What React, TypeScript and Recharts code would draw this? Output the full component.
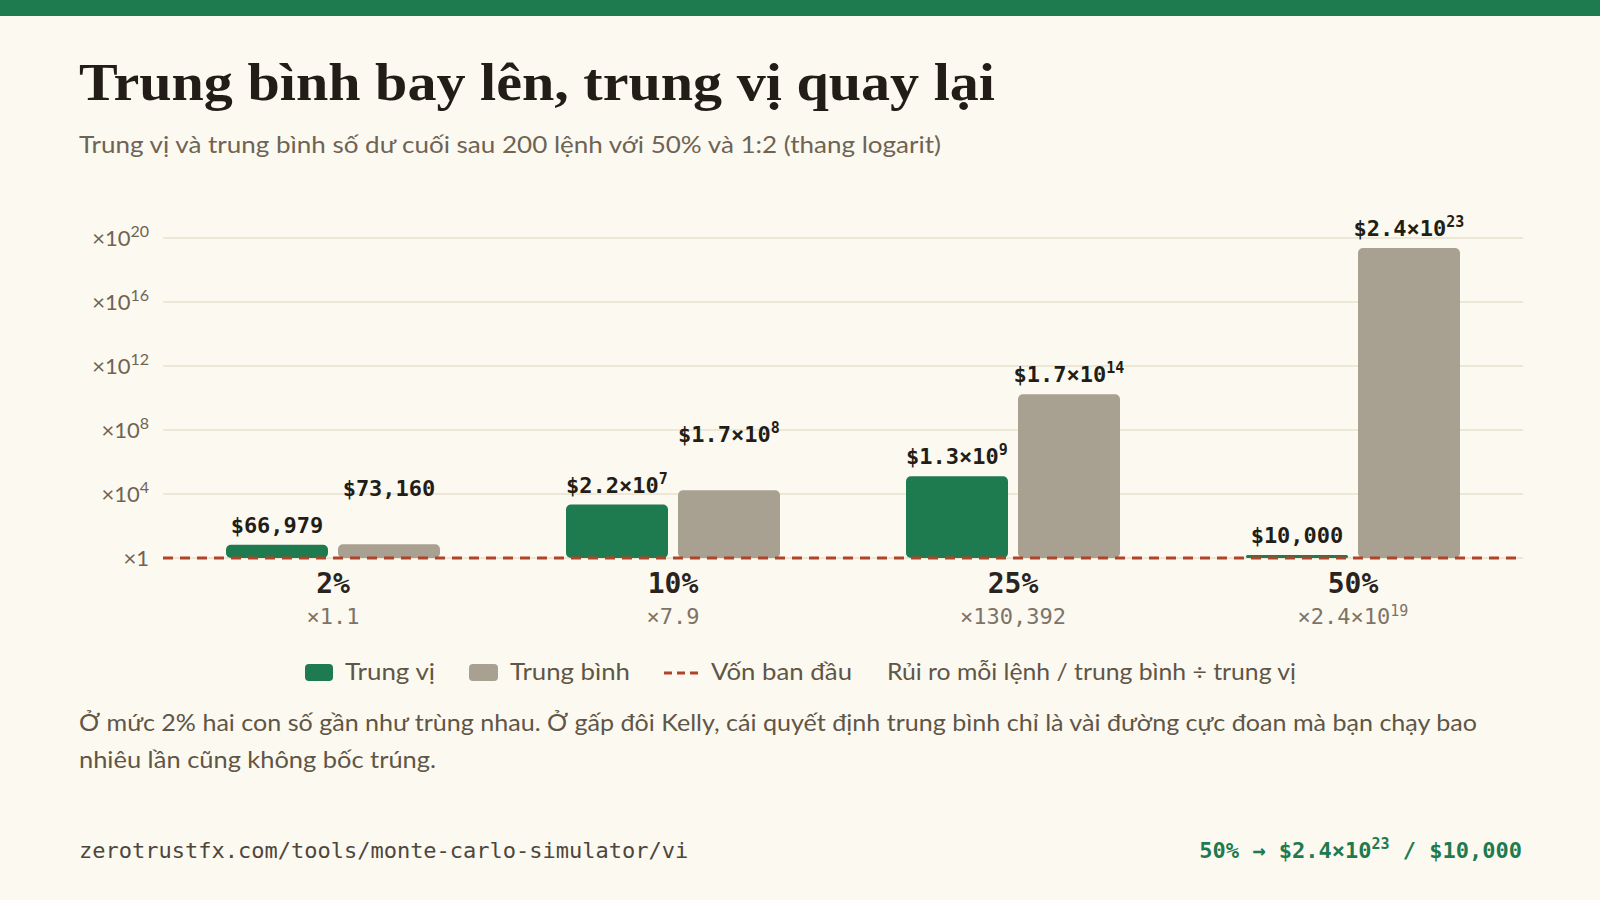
import { BarChart, Bar, XAxis, YAxis, CartesianGrid, ReferenceLine, LabelList } from 'recharts'

// starting capital, balances and ratios
const START = 10000
const riskLevels = ['2%', '10%', '25%', '50%']
const medianBalance = [66979, 2.2e7, 1.3e9, 10000]
const meanBalance = [73160, 1.7e8, 1.7e14, 2.4e23]
const meanOverMedian = [1.1, 7.9, 130392, 2.4e19]
const yTicks = [1e4, 1e8, 1e12, 1e16, 1e20, 1e24]

const data = riskLevels.map((risk, i) => ({
  risk,
  median: medianBalance[i],
  mean: meanBalance[i],
}))

const GREEN = '#1e7a4f'
const GRAY = '#a8a090'
const RED = '#b0432b'
const BG = '#fcf9f1'
const SANS = 'Lato, "Noto Sans", sans-serif'
const MONO = '"DejaVu Sans Mono", "Liberation Mono", monospace'

// "66,979" or ["2.2×10", "7"]
function sci(v: number): [string, string | null] {
  if (v < 1e6) return [v < 10 ? v.toFixed(1) : Math.round(v).toLocaleString('en-US'), null]
  const exp = Math.floor(Math.log10(v) + 1e-9)
  return [`${(v / 10 ** exp).toFixed(1)}×10`, String(exp)]
}

function MultipleTick({ x, y, payload }: any) {
  const exp = Math.round(Math.log10(payload.value / START))
  return (
    <text x={x} y={y + 7.5} textAnchor="end" fontFamily={SANS} fontSize={22} fill="#6e6454">
      {exp === 0 ? '×1' : (
        <>
          ×10<tspan dy={-9} fontSize={16}>{exp}</tspan>
        </>
      )}
    </text>
  )
}

function RiskTick({ x, y, payload }: any) {
  const i = riskLevels.indexOf(payload.value)
  const [main, exp] = sci(meanOverMedian[i])
  return (
    <g>
      <text x={x} y={y + 35} textAnchor="middle" fontFamily={MONO} fontWeight={700} fontSize={28} fill="#2a241e">
        {payload.value}
      </text>
      <text x={x} y={y + 66} textAnchor="middle" fontFamily={MONO} fontSize={22} fill="#7d7467">
        ×{main}
        {exp && <tspan dy={-8} fontSize={15}>{exp}</tspan>}
      </text>
    </g>
  )
}

// mean labels sit higher when the two bars are too close for both labels
const valueLabel = (series: 'median' | 'mean') => (props: any) => {
  const { x, y, width, value, index } = props
  const lift = series === 'mean' && meanOverMedian[index] < 100 ? 48 : 12
  const [main, exp] = sci(value)
  return (
    <text x={x + width / 2} y={y - lift} textAnchor="middle" fontFamily={MONO} fontWeight={700} fontSize={22} fill="#221d17">
      ${main}
      {exp && <tspan dy={-9} fontSize={15}>{exp}</tspan>}
    </text>
  )
}

export default function App() {
  return (
    <div style={{ position: 'absolute', left: 0, top: 0, width: 1600, height: 900, background: BG, overflow: 'hidden' }}>
      <div style={{ position: 'absolute', left: 0, top: 0, width: 1600, height: 16, background: GREEN }} />

      <div style={{ position: 'absolute', left: 0, top: 0 }}>
        <BarChart width={1600} height={640} data={data} margin={{ top: 238, right: 77, bottom: 0, left: 0 }} barSize={102} barGap={10}>
          <CartesianGrid vertical={false} stroke="#ded5c0" strokeWidth={1.2} />
          <XAxis dataKey="risk" axisLine={false} tickLine={false} tickSize={0} tickMargin={0} height={82} tick={<RiskTick />} interval={0} />
          <YAxis
            type="number"
            scale="log"
            domain={[1e4, 1e24]}
            ticks={yTicks}
            width={163}
            axisLine={false}
            tickLine={false}
            tickSize={0}
            tickMargin={14}
            tick={<MultipleTick />}
          />
          <Bar dataKey="median" fill={GREEN} radius={5} minPointSize={3} isAnimationActive={false}>
            <LabelList dataKey="median" content={valueLabel('median')} />
          </Bar>
          <Bar dataKey="mean" fill={GRAY} radius={5} minPointSize={3} isAnimationActive={false}>
            <LabelList dataKey="mean" content={valueLabel('mean')} />
          </Bar>
          <ReferenceLine y={START} stroke={RED} strokeWidth={3} strokeDasharray="10 7" />
        </BarChart>
      </div>

      <svg width={1600} height={900} style={{ position: 'absolute', left: 0, top: 0, pointerEvents: 'none' }}>
        <text x={79} y={100} fontFamily='"Liberation Serif", serif' fontWeight={700} fontSize={52} fill="#221d17" textLength={916} lengthAdjust="spacingAndGlyphs">
          Trung bình bay lên, trung vị quay lại
        </text>
        <text x={79} y={153} fontFamily={SANS} fontSize={24} fill="#6e6454" textLength={862} lengthAdjust="spacingAndGlyphs">
          Trung vị và trung bình số dư cuối sau 200 lệnh với 50% và 1:2 (thang logarit)
        </text>

        <rect x={305} y={664} width={28} height={17} rx={4} fill={GREEN} />
        <text x={345} y={680} fontFamily={SANS} fontSize={24} fill="#5f5647" textLength={90} lengthAdjust="spacingAndGlyphs">Trung vị</text>
        <rect x={469} y={664} width={29} height={17} rx={4} fill={GRAY} />
        <text x={510} y={680} fontFamily={SANS} fontSize={24} fill="#5f5647" textLength={120} lengthAdjust="spacingAndGlyphs">Trung bình</text>
        <line x1={664} x2={700} y1={673} y2={673} stroke={RED} strokeWidth={3} strokeDasharray="8 5" />
        <text x={711} y={680} fontFamily={SANS} fontSize={24} fill="#5f5647" textLength={141} lengthAdjust="spacingAndGlyphs">Vốn ban đầu</text>
        <text x={887} y={680} fontFamily={SANS} fontSize={24} fill="#5f5647" textLength={409} lengthAdjust="spacingAndGlyphs">
          Rủi ro mỗi lệnh / trung bình ÷ trung vị
        </text>

        <text x={79} y={731} fontFamily={SANS} fontSize={24} fill="#5f5647" textLength={1398} lengthAdjust="spacingAndGlyphs">
          Ở mức 2% hai con số gần như trùng nhau. Ở gấp đôi Kelly, cái quyết định trung bình chỉ là vài đường cực đoan mà bạn chạy bao
        </text>
        <text x={79} y={768} fontFamily={SANS} fontSize={24} fill="#5f5647" textLength={357} lengthAdjust="spacingAndGlyphs">
          nhiêu lần cũng không bốc trúng.
        </text>

        <text x={79} y={858} fontFamily={MONO} fontSize={22} fill="#4d463d">
          zerotrustfx.com/tools/monte-carlo-simulator/vi
        </text>
        <text x={1522} y={858} textAnchor="end" fontFamily={MONO} fontWeight={700} fontSize={22} fill={GREEN}>
          50% → $2.4×10<tspan dy={-9} fontSize={15}>23</tspan>
          <tspan dy={9}> / $10,000</tspan>
        </text>
      </svg>
    </div>
  )
}
